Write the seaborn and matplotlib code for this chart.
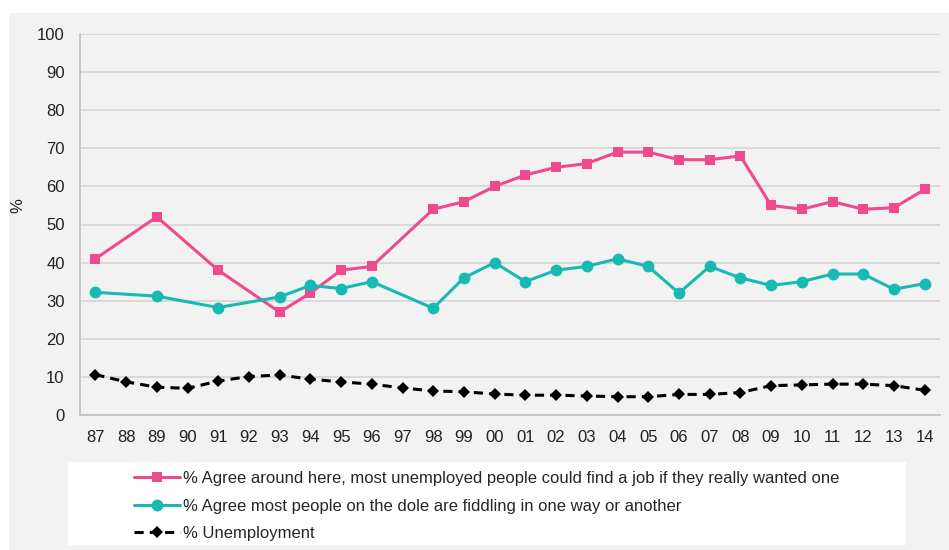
import numpy as np
import pandas as pd
import seaborn as sns
import matplotlib
matplotlib.use("Agg")
import matplotlib.pyplot as plt
from matplotlib.patches import Rectangle
from matplotlib.ticker import FixedLocator, MultipleLocator

nan = np.nan
years = ["87", "88", "89", "90", "91", "92", "93", "94", "95", "96", "97", "98", "99",
         "00", "01", "02", "03", "04", "05", "06", "07", "08", "09", "10", "11", "12", "13", "14"]
job_agree = [41, nan, 52, nan, 38, nan, 27, 32, 38, 39, nan, 54, 56,
             60, 63, 65, 66, 69, 69, 67, 67, 68, 55, 54, 56, 54, 54.4, 59.2]
dole_fiddling = [32.2, nan, 31.2, nan, 28.2, nan, 31, 34, 33.2, 35, nan, 28, 36,
                 40, 35, 38, 39, 41, 39, 32, 39, 36, 34, 35, 37, 37, 33, 34.5]
unemployment = [10.6, 8.7, 7.3, 7.0, 8.9, 10.1, 10.5, 9.4, 8.7, 8.1, 7.1, 6.3, 6.1,
                5.5, 5.2, 5.2, 5.0, 4.8, 4.8, 5.4, 5.4, 5.9, 7.7, 7.9, 8.1, 8.1, 7.7, 6.5]
labels = ["% Agree around here, most unemployed people could find a job if they really wanted one",
          "% Agree most people on the dole are fiddling in one way or another",
          "% Unemployment"]

sns.set_style("white")
plt.rcParams["font.family"] = ["Liberation Sans", "DejaVu Sans"]

df = pd.DataFrame({"pos": np.arange(len(years)), "job": job_agree,
                   "dole": dole_fiddling, "unemp": unemployment})

BG = "#f2f2f2"
PINK = "#ef4a8e"
TEAL = "#17bab2"
FS = 12

fig = plt.figure(figsize=(9.49, 5.5), dpi=100)
fig.patch.set_facecolor("white")
fig.add_artist(Rectangle((9 / 949, 0), 1, (550 - 13) / 550, transform=fig.transFigure,
                         facecolor=BG, edgecolor="none", zorder=-10))
fig.add_artist(Rectangle((68 / 949, 5 / 550), (906 - 68) / 949, (545 - 462) / 550,
                         transform=fig.transFigure, facecolor="white", edgecolor="none", zorder=-5))

ax = fig.add_axes([80 / 949, 135 / 550, 860 / 949, 381 / 550])
ax.set_facecolor(BG)

sns.lineplot(data=df, x="pos", y="job", ax=ax, color=PINK, marker="s", markersize=7,
             markeredgewidth=0, linewidth=2.2, label=labels[0])
sns.lineplot(data=df, x="pos", y="dole", ax=ax, color=TEAL, marker="o", markersize=8.5,
             markeredgewidth=0, linewidth=2.2, label=labels[1])
sns.lineplot(data=df, x="pos", y="unemp", ax=ax, color="black", marker="D", markersize=6.5,
             markeredgewidth=0, linewidth=2.2, linestyle=(0, (3, 2)), label=labels[2])

ax.set_xlim(-0.5, len(years) - 0.5)
ax.set_ylim(0, 100)
ax.yaxis.set_major_locator(MultipleLocator(10))
ax.set_xticks(np.arange(len(years)))
ax.set_xticklabels(years)
ax.xaxis.set_minor_locator(FixedLocator(np.arange(-0.5, len(years), 1)))
ax.tick_params(axis="x", which="major", length=0, labelsize=FS, colors="#222222", pad=11)
ax.tick_params(axis="x", which="minor", length=5, color="#bfbfbf", width=1)
ax.tick_params(axis="y", which="major", length=4, color="#bfbfbf", labelsize=FS,
               colors="#222222", pad=7)
ax.tick_params(axis="y", colors="#bfbfbf", labelcolor="#222222")
ax.grid(axis="y", color="#d4d4d4", linewidth=1.2)
ax.set_axisbelow(True)
for s in ["top", "right"]:
    ax.spines[s].set_visible(False)
for s in ["left", "bottom"]:
    ax.spines[s].set_color("#bfbfbf")
    ax.spines[s].set_linewidth(1.2)
ax.set_xlabel("")
ax.set_ylabel("%", fontsize=FS, color="#222222")
ax.yaxis.set_label_coords(-0.064, 0.55)

handles, labs = ax.get_legend_handles_labels()
if ax.get_legend() is not None:
    ax.get_legend().remove()
fig.legend(handles, labs, loc="upper left", bbox_to_anchor=(134 / 949, 1 - 471 / 550),
           frameon=False, fontsize=FS, handlelength=2.75, handletextpad=0.2,
           labelspacing=0.75, borderaxespad=0, borderpad=0)

fig.savefig("out.png", dpi=100, facecolor=fig.get_facecolor())
